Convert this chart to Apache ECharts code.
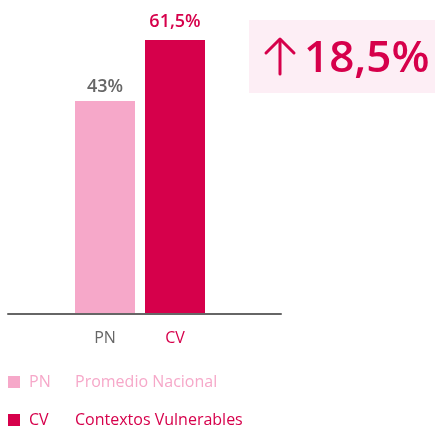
<!DOCTYPE html>
<html>
<head>
<meta charset="utf-8">
<script src="https://cdn.jsdelivr.net/npm/echarts@6/dist/echarts.min.js"></script>
<style>
  html, body { margin: 0; padding: 0; background: #fff; }
  #chart { width: 435px; height: 427px; }
</style>
</head>
<body>
<div id="chart"></div>
<script>
// datos
const categorias = ['PN', 'CV'];
const nombres = ['Promedio Nacional', 'Contextos Vulnerables'];
const valorPN = [43, '-'];
const valorCV = ['-', 61.5];
const diferencia = '18,5%';

const rosa = '#f6a8c9';
const carmin = '#d6004b';
const gris = '#666666';

const fmt = v => String(v).replace('.', ',') + '%';

// una leyenda por fila
function leyenda(nombre, color, top) {
  return {
    left: 8,
    top: top,
    padding: 0,
    itemWidth: 12,
    itemHeight: 12,
    icon: 'rect',
    data: [{ name: nombre, textStyle: { color: color } }],
    formatter: n => '{a|' + n + '}{b|' + nombres[categorias.indexOf(n)] + '}',
    textStyle: {
      fontSize: 16,
      lineHeight: 14,
      rich: {
        a: { fontSize: 16, lineHeight: 14, width: 46, padding: [0, 0, 0, 4] },
        b: { fontSize: 16, lineHeight: 14 }
      }
    }
  };
}

let myChart = echarts.init(document.getElementById('chart'));

const option = {
  animation: false,
  textStyle: { fontFamily: 'Open Sans' },
  grid: [
    { left: 70, right: 225, top: 40, bottom: 114 },
    { left: 8, right: 154, top: 40, bottom: 113 }
  ],
  xAxis: [
    {
      type: 'category',
      gridIndex: 0,
      data: categorias,
      axisLine: { show: false },
      axisTick: { show: false },
      axisLabel: {
        margin: 17,
        fontSize: 16,
        color: (v, i) => (i === 0 ? gris : carmin)
      }
    },
    {
      type: 'category',
      gridIndex: 1,
      data: [''],
      axisLine: { lineStyle: { color: gris, width: 2 } },
      axisTick: { show: false },
      axisLabel: { show: false },
      z: 5
    }
  ],
  yAxis: [
    { type: 'value', gridIndex: 0, min: -21.3, max: 61.5, startValue: -21.3, show: false },
    { type: 'value', gridIndex: 1, show: false }
  ],
  legend: [
    leyenda('PN', rosa, 374),
    leyenda('CV', carmin, 412)
  ],
  series: [
    {
      name: 'PN',
      type: 'bar',
      data: valorPN,
      barWidth: 60,
      barGap: '-100%',
      itemStyle: { color: rosa },
      label: {
        show: true,
        position: 'top',
        distance: 5,
        fontSize: 18,
        fontWeight: 600,
        color: gris,
        formatter: p => fmt(p.value)
      }
    },
    {
      name: 'CV',
      type: 'bar',
      data: valorCV,
      barWidth: 60,
      barGap: '-100%',
      itemStyle: { color: carmin },
      label: {
        show: true,
        position: 'top',
        distance: 9,
        fontSize: 18,
        fontWeight: 600,
        color: carmin,
        formatter: p => fmt(p.value)
      }
    }
  ],
  graphic: [
    {
      type: 'rect',
      left: 249,
      top: 20,
      shape: { width: 186, height: 73 },
      style: { fill: '#fdeef5' }
    },
    {
      type: 'polyline',
      shape: { points: [[266, 53], [280, 39], [294, 53]] },
      style: { stroke: carmin, lineWidth: 3, fill: null, lineCap: 'round', lineJoin: 'round' }
    },
    {
      type: 'line',
      shape: { x1: 280, y1: 40, x2: 280, y2: 74 },
      style: { stroke: carmin, lineWidth: 3, lineCap: 'round' }
    },
    {
      type: 'text',
      left: 304,
      top: 37,
      style: {
        text: diferencia,
        fontFamily: 'Open Sans',
        fontSize: 44,
        fontWeight: 600,
        fill: carmin
      }
    }
  ]
};

myChart.setOption(option);
</script>
</body>
</html>
